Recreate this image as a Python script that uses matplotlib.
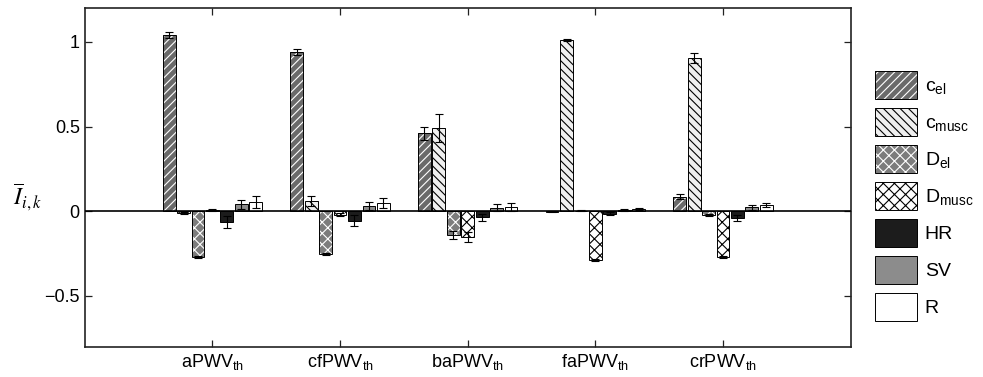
import numpy as np
import matplotlib
matplotlib.use("Agg")
import matplotlib.pyplot as plt
from matplotlib.patches import Patch

plt.rcParams['font.family'] = ['Liberation Sans', 'DejaVu Sans']
plt.rcParams['mathtext.fontset'] = 'custom'
plt.rcParams['mathtext.rm'] = 'Liberation Sans'
plt.rcParams['mathtext.it'] = 'Liberation Sans:italic'
plt.rcParams['mathtext.bf'] = 'Liberation Sans:bold'
plt.rcParams['hatch.linewidth'] = 0.8

# ---- data ----
groups = [r'aPWV$_{\mathrm{th}}$', r'cfPWV$_{\mathrm{th}}$', r'baPWV$_{\mathrm{th}}$',
          r'faPWV$_{\mathrm{th}}$', r'crPWV$_{\mathrm{th}}$']
series = [r'c$_{\mathrm{el}}$', r'c$_{\mathrm{musc}}$', r'D$_{\mathrm{el}}$',
          r'D$_{\mathrm{musc}}$', 'HR', 'SV', 'R']

c_el = [1.04, 0.94, 0.46, -0.003, 0.085]
c_el_err = [0.02, 0.02, 0.04, 0.003, 0.015]
c_musc = [-0.01, 0.06, 0.49, 1.01, 0.905]
c_musc_err = [0.005, 0.027, 0.082, 0.005, 0.03]
D_el = [-0.27, -0.255, -0.14, 0.004, -0.02]
D_el_err = [0.008, 0.006, 0.024, 0.003, 0.006]
D_musc = [0.008, -0.02, -0.15, -0.29, -0.27]
D_musc_err = [0.004, 0.01, 0.03, 0.005, 0.007]
HR = [-0.065, -0.055, -0.035, -0.015, -0.04]
HR_err = [0.035, 0.03, 0.02, 0.008, 0.015]
SV = [0.04, 0.033, 0.02, 0.008, 0.022]
SV_err = [0.025, 0.024, 0.02, 0.005, 0.012]
R = [0.055, 0.047, 0.025, 0.013, 0.038]
R_err = [0.035, 0.03, 0.024, 0.008, 0.012]

yticks = [-0.5, 0, 0.5, 1]
ytick_labels = ['\u22120.5', '0', '0.5', '1']

values = [c_el, c_musc, D_el, D_musc, HR, SV, R]
errors = [c_el_err, c_musc_err, D_el_err, D_musc_err, HR_err, SV_err, R_err]

# style: (facecolor, hatch, hatchcolor)
styles = [
    ('#6a6a6a', '////', 'white'),
    ('#efefef', '\\\\\\\\', 'black'),
    ('#7c7c7c', 'xxx', 'white'),
    ('white', 'xxx', 'black'),
    ('#1c1c1c', None, None),
    ('#8c8c8c', None, None),
    ('white', None, None),
]

fig = plt.figure(figsize=(9.83, 3.77), dpi=100)
ax = fig.add_axes([0.0862, 0.0804, 0.8654 - 0.0862, 0.9788 - 0.0804])

xg = np.arange(1, len(groups) + 1)
step = 0.113
width = 0.10
edge_lw = 0.7
handles = []
for i, (vals, errs, (fc, hatch, hc)) in enumerate(zip(values, errors, styles)):
    x = xg + (i - 3) * step
    if hatch is not None and hc == 'white':
        ax.bar(x, vals, width, color=fc, edgecolor='white', hatch=hatch, linewidth=0, zorder=2)
        ax.bar(x, vals, width, fill=False, edgecolor='black', linewidth=edge_lw, zorder=3)
        h = (Patch(facecolor=fc, edgecolor='white', hatch=hatch, linewidth=0),
             Patch(fill=False, edgecolor='black', linewidth=edge_lw))
    elif hatch is not None:
        ax.bar(x, vals, width, color=fc, edgecolor='black', hatch=hatch, linewidth=edge_lw, zorder=2)
        h = Patch(facecolor=fc, edgecolor='black', hatch=hatch, linewidth=edge_lw)
    else:
        ax.bar(x, vals, width, color=fc, edgecolor='black', linewidth=edge_lw, zorder=2)
        h = Patch(facecolor=fc, edgecolor='black', linewidth=edge_lw)
    handles.append(h)
    ax.errorbar(x, vals, yerr=errs, fmt='none', ecolor='black', elinewidth=0.8,
                capsize=3, capthick=0.8, zorder=4)

ax.axhline(0, color='black', linewidth=1.2, zorder=5)
ax.set_xlim(0, 6)
ax.set_ylim(-0.8, 1.2)
ax.set_xticks(xg)
ax.set_xticklabels(groups)
ax.set_yticks(yticks)
ax.set_yticklabels(ytick_labels)
ax.tick_params(direction='in', top=True, right=True, length=5, width=0.9,
               labelsize=13, color='#222222')
ax.tick_params(axis='x', pad=4)
for s in ax.spines.values():
    s.set_linewidth(1.2)
    s.set_color('#222222')

fig.text(0.028, 1 - 197 / 377, r'$\overline{I}_{i,k}$', fontsize=17,
         math_fontfamily='stix', ha='center', va='center')

fs = 14
fs_px = fs * 100 / 72
leg = fig.legend(handles, series, loc='upper left',
                 bbox_to_anchor=(875 / 983, 1 - 71 / 377),
                 frameon=False, fontsize=fs, borderpad=0, borderaxespad=0,
                 handlelength=42 / fs_px,
                 handleheight=(28 / fs_px - 0.245) / 0.65,
                 handletextpad=0.4, labelspacing=0.46)

fig.savefig('out.png', dpi=100)
